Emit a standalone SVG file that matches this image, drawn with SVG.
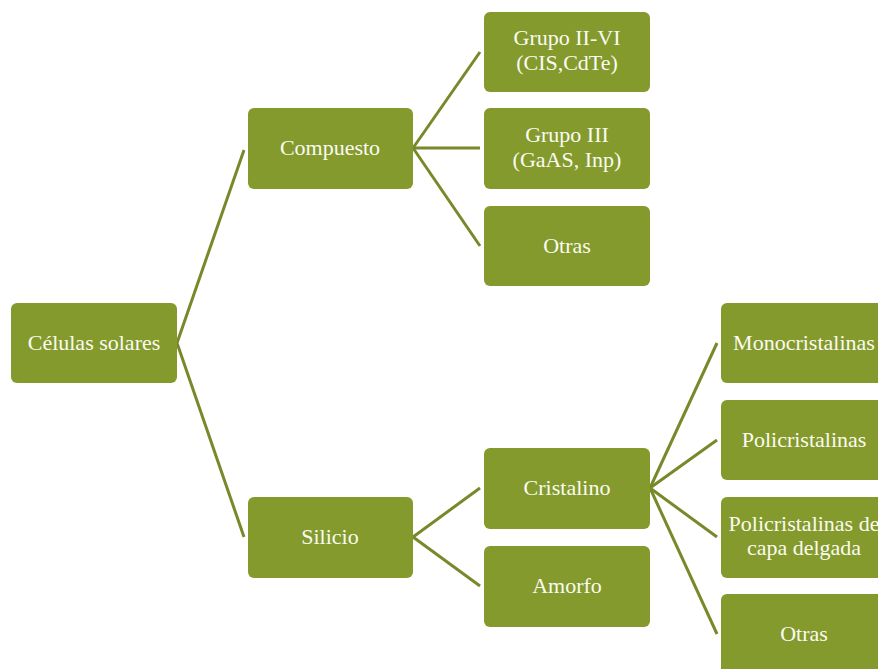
<svg xmlns="http://www.w3.org/2000/svg" width="878" height="669" viewBox="0 0 878 669">
  <style>
    .box { fill: #849A2C; }
    .lbl { fill: #FAFAF2; font-family: "Liberation Serif", "Times New Roman", serif; font-size: 22px; text-anchor: middle; }
    .link { stroke: #78892A; stroke-width: 3; fill: none; }
  </style>
  <rect width="878" height="669" fill="#FFFFFF"/>

  <!-- connectors -->
  <g id="connectors" class="link">
    <polyline points="244,150 177,343 244,537"/>
    <line x1="413" y1="148" x2="480" y2="52"/>
    <line x1="413" y1="148" x2="480" y2="148"/>
    <line x1="413" y1="148" x2="480" y2="246"/>
    <line x1="413" y1="537" x2="480" y2="488"/>
    <line x1="413" y1="537" x2="480" y2="586"/>
    <line x1="650" y1="488" x2="717" y2="343"/>
    <line x1="650" y1="488" x2="717" y2="440"/>
    <line x1="650" y1="488" x2="717" y2="537"/>
    <line x1="650" y1="488" x2="717" y2="634"/>
  </g>

  <!-- root -->
  <g id="celulas-solares">
    <rect class="box" x="11" y="303" width="166" height="80" rx="6"/>
    <text class="lbl" x="94" y="350">Células solares</text>
  </g>

  <!-- first level -->
  <g id="compuesto">
    <rect class="box" x="248" y="108" width="165" height="81" rx="6"/>
    <text class="lbl" x="330" y="155">Compuesto</text>
  </g>
  <g id="silicio">
    <rect class="box" x="248" y="497" width="165" height="81" rx="6"/>
    <text class="lbl" x="330" y="544">Silicio</text>
  </g>

  <!-- compound branch -->
  <g id="grupo-ii-vi">
    <rect class="box" x="484" y="12" width="166" height="80" rx="6"/>
    <text class="lbl" x="567" y="45">Grupo II-VI</text>
    <text class="lbl" x="567" y="70">(CIS,CdTe)</text>
  </g>
  <g id="grupo-iii">
    <rect class="box" x="484" y="108" width="166" height="81" rx="6"/>
    <text class="lbl" x="567" y="142">Grupo III</text>
    <text class="lbl" x="567" y="167">(GaAS, Inp)</text>
  </g>
  <g id="otras-compuesto">
    <rect class="box" x="484" y="206" width="166" height="80" rx="6"/>
    <text class="lbl" x="567" y="253">Otras</text>
  </g>

  <!-- silicon branch -->
  <g id="cristalino">
    <rect class="box" x="484" y="448" width="166" height="81" rx="6"/>
    <text class="lbl" x="567" y="495">Cristalino</text>
  </g>
  <g id="amorfo">
    <rect class="box" x="484" y="546" width="166" height="81" rx="6"/>
    <text class="lbl" x="567" y="593">Amorfo</text>
  </g>

  <!-- crystalline branch -->
  <g id="monocristalinas">
    <rect class="box" x="721" y="303" width="166" height="80" rx="6"/>
    <text class="lbl" x="804" y="350">Monocristalinas</text>
  </g>
  <g id="policristalinas">
    <rect class="box" x="721" y="400" width="166" height="80" rx="6"/>
    <text class="lbl" x="804" y="447">Policristalinas</text>
  </g>
  <g id="policristalinas-capa-delgada">
    <rect class="box" x="721" y="497" width="166" height="81" rx="6"/>
    <text class="lbl" x="804" y="531">Policristalinas de</text>
    <text class="lbl" x="804" y="555">capa delgada</text>
  </g>
  <g id="otras-cristalino">
    <rect class="box" x="721" y="594" width="166" height="81" rx="6"/>
    <text class="lbl" x="804" y="641">Otras</text>
  </g>
</svg>
